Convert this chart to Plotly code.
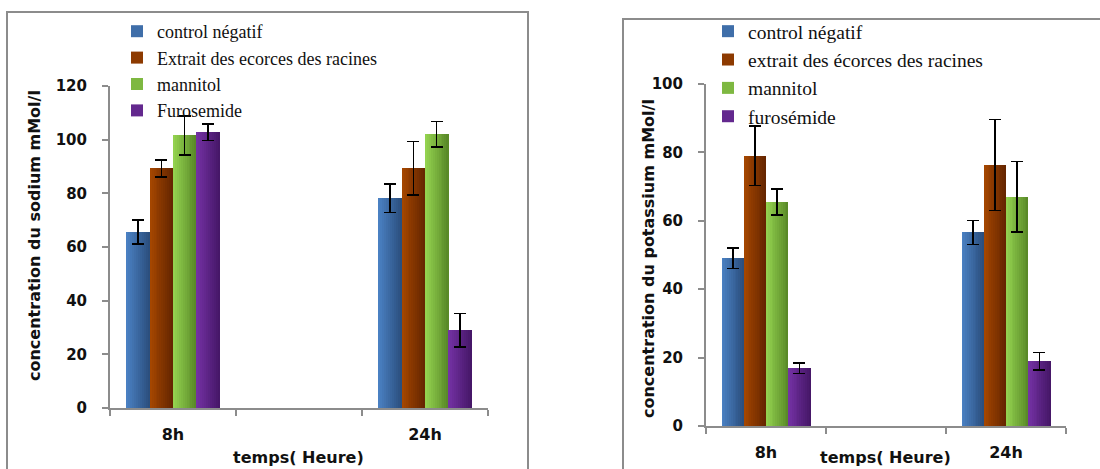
import plotly.graph_objects as go

# --- data -------------------------------------------------------------
categories = ["8h", " ", "24h"]

names_na = ["control négatif", "Extrait des ecorces des racines", "mannitol", "Furosemide"]
names_k = ["control négatif", "extrait des écorces des racines", "mannitol", "furosémide"]

# sodium (mMol/l), middle category is an empty slot on the axis
na_control = [65.6, None, 78.2]
na_extrait = [89.3, None, 89.3]
na_mannitol = [101.6, None, 102.0]
na_furosemide = [102.8, None, 29.0]
na_control_err = [4.5, None, 5.3]
na_extrait_err = [3.2, None, 10.0]
na_mannitol_err = [7.3, None, 4.8]
na_furosemide_err = [3.1, None, 6.2]

# potassium (mMol/l)
k_control = [49.1, None, 56.6]
k_extrait = [79.0, None, 76.3]
k_mannitol = [65.5, None, 67.0]
k_furosemide = [16.9, None, 18.9]
k_control_err = [3.0, None, 3.5]
k_extrait_err = [8.7, None, 13.3]
k_mannitol_err = [3.8, None, 10.3]
k_furosemide_err = [1.6, None, 2.6]

y_ticks_na = [0, 20, 40, 60, 80, 100, 120]
y_ticks_k = [0, 20, 40, 60, 80, 100]

# --- styling ----------------------------------------------------------
# light (left edge) -> dark (right edge) for each series
gradients = [
    ("#4a80c2", "#2b4f7e"),
    ("#a44600", "#662600"),
    ("#93d24f", "#5a8a28"),
    ("#7331a3", "#461768"),
]
AXIS_GREY = "#8c8c8c"
BOLD = dict(family="DejaVu Sans", size=16, color="#111111", weight="bold")
TICKFONT = dict(family="DejaVu Sans", size=15, color="#111111", weight="bold")

GROUP = 0.74          # share of a category slot used by the bar group
N_SLICES = 12         # vertical slices used to shade each bar


def mix(c1, c2, t):
    a = [int(c1[i:i + 2], 16) for i in (1, 3, 5)]
    b = [int(c2[i:i + 2], 16) for i in (1, 3, 5)]
    return "rgb(%d,%d,%d)" % tuple(round(a[j] + (b[j] - a[j]) * t) for j in range(3))


fig = go.Figure()


def add_panel(series, errors, names, xa, ya, legend):
    w = GROUP / len(series)
    for i, (vals, errs, name) in enumerate(zip(series, errors, names)):
        left = -GROUP / 2 + i * w
        light, dark = gradients[i]
        step = w / N_SLICES
        for k in range(N_SLICES):
            fig.add_trace(go.Bar(
                x=categories, y=vals, xaxis=xa, yaxis=ya,
                offset=left + k * step, width=step * 1.15,
                marker=dict(color=mix(light, dark, k / (N_SLICES - 1)), line=dict(width=0)),
                name=name, legend=legend, legendgroup=legend + name,
                showlegend=(k == N_SLICES // 3), hoverinfo="skip",
            ))
        # error bars on a transparent bar of full width
        fig.add_trace(go.Bar(
            x=categories, y=vals, xaxis=xa, yaxis=ya,
            offset=left, width=w,
            marker=dict(color="rgba(0,0,0,0)", line=dict(width=0)),
            error_y=dict(type="data", array=errs, visible=True,
                         color="black", thickness=1.6, width=6),
            showlegend=False, hoverinfo="skip", legend=legend,
        ))


add_panel([na_control, na_extrait, na_mannitol, na_furosemide],
          [na_control_err, na_extrait_err, na_mannitol_err, na_furosemide_err],
          names_na, "x", "y", "legend")
add_panel([k_control, k_extrait, k_mannitol, k_furosemide],
          [k_control_err, k_extrait_err, k_mannitol_err, k_furosemide_err],
          names_k, "x2", "y2", "legend2")

W, H = 1100, 469


def px(x):
    return x / W


def py(y):
    return 1 - y / H


xaxis_common = dict(
    type="category", categoryorder="array", categoryarray=categories,
    range=[-0.5, 2.5], tickson="boundaries", ticks="outside", ticklen=6,
    tickcolor=AXIS_GREY, tickwidth=2, showline=True, linecolor=AXIS_GREY,
    linewidth=2, showgrid=False, zeroline=False, tickfont=BOLD,
    automargin=False, fixedrange=True,
)
yaxis_common = dict(
    ticks="outside", ticklen=6, tickcolor=AXIS_GREY, tickwidth=2,
    showline=True, linecolor=AXIS_GREY, linewidth=2, showgrid=False,
    zeroline=False, tickfont=TICKFONT, ticklabelstandoff=12,
    automargin=False, fixedrange=True,
)


def label(text, x, y, angle=0):
    return dict(text=text, x=px(x), y=py(y), xref="paper", yref="paper",
                xanchor="center", yanchor="middle", textangle=angle,
                showarrow=False, font=BOLD)


def legend_box(x, y, size):
    return dict(x=px(x), y=py(y), xanchor="left", yanchor="top",
                bgcolor="rgba(0,0,0,0)", traceorder="normal", tracegroupgap=0,
                font=dict(family="Liberation Serif", size=size, color="#111111"),
                itemclick=False, itemdoubleclick=False)


fig.update_layout(
    width=W, height=H,
    margin=dict(l=0, r=0, t=0, b=0, autoexpand=False),
    paper_bgcolor="white", plot_bgcolor="white",
    barmode="overlay", bargap=0,
    xaxis=dict(domain=[px(110), px(488)], anchor="y", ticklabelstandoff=11,
               **xaxis_common),
    yaxis=dict(domain=[py(408), py(86)], anchor="x", range=[0, 120],
               tickvals=y_ticks_na, **yaxis_common),
    xaxis2=dict(domain=[px(706), px(1066)], anchor="y2", ticklabelstandoff=11,
                **xaxis_common),
    yaxis2=dict(domain=[py(426), py(84)], anchor="x2", range=[0, 100],
                tickvals=y_ticks_k, **yaxis_common),
    legend=legend_box(117, 13, 18),
    legend2=legend_box(708, 12, 19.5),
    shapes=[
        dict(type="rect", xref="paper", yref="paper", x0=px(7), x1=px(528),
             y0=-0.05, y1=py(12), line=dict(color=AXIS_GREY, width=2)),
        dict(type="rect", xref="paper", yref="paper", x0=px(623), x1=1.05,
             y0=-0.05, y1=py(19), line=dict(color=AXIS_GREY, width=2)),
    ],
    annotations=[
        label("concentration du sodium mMol/l", 34, 236, -90),
        label("concentration du potassium mMol/l", 648, 259, -90),
        label("temps( Heure)", 298, 457),
        label("temps( Heure)", 885, 457),
    ],
    showlegend=True,
)

fig.write_html("out.html")
